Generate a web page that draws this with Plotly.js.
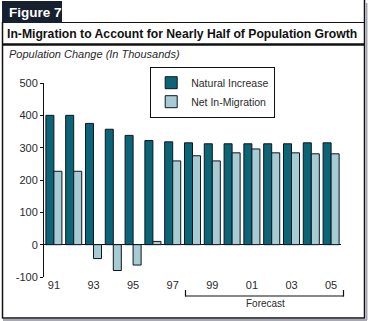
<!DOCTYPE html>
<html>
<head>
<meta charset="utf-8">
<script src="https://cdn.plot.ly/plotly-3.0.1.min.js"></script>
<style>
html,body{margin:0;padding:0;background:#fff;}
#chart{width:368px;height:321px;}
</style>
</head>
<body>
<div id="chart"></div>
<script>
const years = ["91","92","93","94","95","96","97","98","99","00","01","02","03","04","05"];
const naturalIncrease = [400, 400, 375, 357, 338, 322, 318, 315, 312, 312, 312, 312, 312, 315, 315];
const netInMigration = [227, 227, -43, -80, -63, 10, 259, 275, 259, 284, 296, 284, 284, 281, 281];
const tickYears = ["91","93","95","97","99","01","03","05"];
const yTicks = [-100, 0, 100, 200, 300, 400, 500];

const FONT = "Liberation Sans, Arial, Helvetica, sans-serif";
const TXT = "#2a2a2a";

// plot area in pixels: x 44..341, y 83..277
const L = 44, R = 341, T = 83, B = 277;
const px = x => (x - L) / (R - L);
const py = y => (B - y) / (B - T);

const traces = [
  {type: "bar", name: "Natural Increase", x: years, y: naturalIncrease,
   marker: {color: "#0b6577", line: {color: "#0d1520", width: 1}}},
  {type: "bar", name: "Net In-Migration", x: years, y: netInMigration,
   marker: {color: "#a7cbd3", line: {color: "#0d1520", width: 1}}}
];

const line = (x0, y0, x1, y1, w, c) => ({type: "line", xref: "paper", yref: "paper",
  x0: px(x0), y0: py(y0), x1: px(x1), y1: py(y1), line: {color: c || "#111", width: w || 1}});

const shapes = [
  // Figure box
  {type: "rect", xref: "paper", yref: "paper", x0: px(2), x1: px(62), y0: py(23), y1: py(1),
   fillcolor: "#16202f", line: {width: 0}},
  // top line beside figure box
  line(62, 22.5, 364.5, 22.5, 1),
  // right border
  line(364.5, 0, 364.5, 318, 1.5),
  // left border
  line(2.5, 22, 2.5, 318, 1.5),
  // thick line under title
  line(2, 44.5, 365, 44.5, 2.5),
  // bottom border with shadow
  line(3, 320, 367, 320, 2, "#a7a7b5"),
  line(366.5, 3, 366.5, 320, 2, "#a7a7b5"),
  line(2, 318, 365, 318, 1.5),
  // legend shadow
  {type: "rect", xref: "paper", yref: "paper", x0: px(156), x1: px(264), y0: py(115), y1: py(72),
   fillcolor: "#a3a3b7", line: {width: 0}, layer: "below"},
  // forecast bracket
  line(185, 296, 344, 296, 1.2),
  line(185.5, 290, 185.5, 296.5, 1.2),
  line(343.5, 290, 343.5, 296.5, 1.2)
];

const annotations = [
  {xref: "paper", yref: "paper", x: px(7), y: py(12), xanchor: "left", yanchor: "middle",
   text: "<b>Figure 7</b>", showarrow: false, font: {family: FONT, size: 13.5, color: "#ffffff"}},
  {xref: "paper", yref: "paper", x: px(5), y: py(33.5), xanchor: "left", yanchor: "middle",
   text: "<b>In-Migration to Account for Nearly Half of Population Growth</b>", showarrow: false,
   font: {family: FONT, size: 12.2, color: "#111"}},
  {xref: "paper", yref: "paper", x: px(7), y: py(54), xanchor: "left", yanchor: "middle",
   text: "<i>Population Change (In Thousands)</i>", showarrow: false,
   font: {family: FONT, size: 11, color: TXT}},
  {xref: "paper", yref: "paper", x: px(265), y: py(303), xanchor: "center", yanchor: "middle",
   text: "Forecast", showarrow: false, font: {family: FONT, size: 10, color: TXT}}
];

const layout = {
  width: 368, height: 321,
  margin: {l: L, r: 368 - R, t: T, b: 321 - B, pad: 0},
  paper_bgcolor: "#ffffff", plot_bgcolor: "#ffffff",
  font: {family: FONT, color: TXT, size: 11},
  barmode: "group", bargap: 0.19, bargroupgap: 0,
  showlegend: true,
  legend: {x: px(150), y: py(67), xanchor: "left", yanchor: "top",
    bgcolor: "#ffffff", bordercolor: "#111", borderwidth: 1.2,
    font: {family: FONT, size: 10.5, color: TXT}, tracegroupgap: 2, itemwidth: 30},
  xaxis: {type: "category", categoryorder: "array", categoryarray: years,
    range: [-0.5, 14.5], tickmode: "array", tickvals: tickYears, ticktext: tickYears,
    showline: false, ticks: "", showgrid: false, zeroline: false, fixedrange: true,
    tickfont: {family: FONT, size: 11, color: TXT}},
  yaxis: {range: [-100, 500], tickmode: "array", tickvals: yTicks, ticktext: yTicks.map(String),
    showline: true, linecolor: "#111", linewidth: 1, ticks: "outside", ticklen: 3, tickcolor: "#111",
    showgrid: false, zeroline: true, zerolinecolor: "#111", zerolinewidth: 1.5, fixedrange: true,
    tickfont: {family: FONT, size: 11, color: TXT}},
  shapes: shapes,
  annotations: annotations
};

Plotly.newPlot("chart", traces, layout, {displayModeBar: false, staticPlot: true});
</script>
</body>
</html>
